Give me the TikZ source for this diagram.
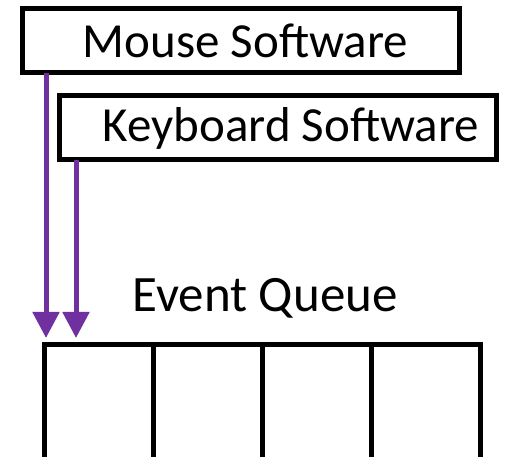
\documentclass[tikz,border=0pt]{standalone}
\usepackage{fontspec}
\setmainfont{Carlito}
\usetikzlibrary{arrows.meta}
\definecolor{arrowpurple}{HTML}{7030A0}
\tikzset{
  swbox/.style={draw=black, line width=5pt, fill=white, rectangle, inner sep=0pt, outer sep=0pt},
  cell/.style={draw=black, line width=5pt, rectangle, inner sep=0pt, outer sep=0pt,
    minimum width=108.9pt, minimum height=130pt, anchor=north west},
  feed/.style={draw=arrowpurple, line width=5pt,
    -{Triangle[length=26pt,width=26pt]}},
  lbl/.style={font=\fontsize{49}{58}\selectfont, inner sep=0pt, anchor=base}
}
\begin{document}
\begin{tikzpicture}[x=1pt,y=1pt]
\useasboundingbox (0,0) rectangle (525,457);
% software boxes
\node[swbox, minimum width=437pt, minimum height=64pt] (ms) at (240.5,416) {};
\node[lbl] (mst) at (245.5,399) {Mouse Software};
\node[swbox, minimum width=436.5pt, minimum height=64.5pt] (ks) at (277.75,329.25) {};
\node[lbl] (kst) at (291,315) {Keyboard Software};
% queue cells
\node[cell] (c1) at (44.5,112) {};
\node[cell] (c2) at (c1.north east) {};
\node[cell] (c3) at (c2.north east) {};
\node[cell] (c4) at (c3.north east) {};
% label
\node[lbl, font=\fontsize{51}{60}\selectfont] (eq) at (265,145) {Event Queue};
% arrows
\coordinate (mt) at (46,119);
\coordinate (kt) at (76,119);
\draw[feed] (ms.south -| mt) -- (mt);
\draw[feed] (ks.south -| kt) -- (kt);
\end{tikzpicture}
\end{document}
